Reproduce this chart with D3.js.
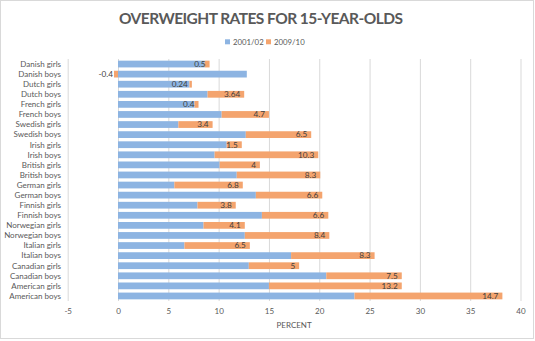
<!DOCTYPE html>
<html>
<head>
<meta charset="utf-8">
<script src="https://cdn.jsdelivr.net/npm/d3@7"></script>
<style>
  body { margin: 0; background: #fff; }
  text { font-family: Lato, "Open Sans", sans-serif; }
</style>
</head>
<body>
<div id="chart"></div>
<script>
const categories = ['Danish girls', 'Danish boys', 'Dutch girls', 'Dutch boys', 'French girls', 'French boys',
  'Swedish girls', 'Swedish boys', 'Irish girls', 'Irish boys', 'British girls', 'British boys',
  'German girls', 'German boys', 'Finnish girls', 'Finnish boys', 'Norwegian girls', 'Norwegian boys',
  'Italian girls', 'Italian boys', 'Canadian girls', 'Canadian boys', 'American girls', 'American boys'];
// 2001/02 rate
const rate2001 = [8.6, 12.8, 7.1, 8.9, 7.6, 10.3, 6.0, 12.7, 10.8, 9.6, 10.1, 11.8,
  5.6, 13.7, 7.9, 14.3, 8.5, 12.6, 6.6, 17.2, 13.0, 20.7, 15.0, 23.5];
// change up to 2009/10 (these are the labels on the orange bars)
const change2009 = [0.5, -0.4, 0.24, 3.64, 0.4, 4.7, 3.4, 6.5, 1.5, 10.3, 4, 8.3,
  6.8, 6.6, 3.8, 6.6, 4.1, 8.4, 6.5, 8.3, 5, 7.5, 13.2, 14.7];
const seriesNames = ['2001/02', '2009/10'];
const xTicks = [-5, 0, 5, 10, 15, 20, 25, 30, 35, 40];

const W = 535, H = 341;
const colors = ['#8db4e2', '#f4a46e'];

const svg = d3.select('#chart').append('svg')
  .attr('width', W).attr('height', H);

// chart border
svg.append('rect')
  .attr('x', 0.5).attr('y', 0.5).attr('width', W - 2).attr('height', H - 3)
  .attr('fill', '#fff').attr('stroke', '#d9d9d9');

const rows = categories.map((c, i) => ({ cat: c, a: rate2001[i], b: change2009[i] }));
const stacked = d3.stack().keys(['a', 'b']).offset(d3.stackOffsetDiverging)(rows);

const x = d3.scaleLinear().domain([-5, 40]).range([67.7, 520.5]);
const y = d3.scaleBand().domain(categories).range([59, 301]).paddingInner(0.33).paddingOuter(0.165);

// gridlines
svg.append('g')
  .attr('transform', `translate(0, 301)`)
  .call(d3.axisBottom(x).tickValues(xTicks).tickSize(-242).tickFormat(''))
  .call(g => g.select('.domain').remove())
  .call(g => g.selectAll('line').attr('stroke', '#d9d9d9').attr('stroke-width', 1));

// bars
svg.append('g').selectAll('g')
  .data(stacked)
  .join('g')
  .attr('fill', (d, i) => colors[i])
  .selectAll('rect')
  .data(d => d)
  .join('rect')
  .attr('x', d => x(Math.min(d[0], d[1])))
  .attr('y', d => y(d.data.cat))
  .attr('width', d => Math.abs(x(d[1]) - x(d[0])))
  .attr('height', y.bandwidth());

// labels on the orange series
svg.append('g').selectAll('text')
  .data(stacked[1])
  .join('text')
  .attr('x', d => d.data.b < 0 ? x(d[0]) - 1 : x(d[1]) - 4)
  .attr('y', d => y(d.data.cat) + y.bandwidth() / 2)
  .attr('dy', '0.35em')
  .attr('text-anchor', 'end')
  .attr('font-size', 8.2)
  .attr('fill', '#404040')
  .text(d => d.data.b);

// category labels
svg.append('g').selectAll('text')
  .data(categories)
  .join('text')
  .attr('x', 61)
  .attr('y', d => y(d) + y.bandwidth() / 2)
  .attr('dy', '0.35em')
  .attr('text-anchor', 'end')
  .attr('font-size', 8)
  .attr('fill', '#595959')
  .text(d => d);

// x axis labels
svg.append('g')
  .attr('transform', `translate(0, 301)`)
  .call(d3.axisBottom(x).tickValues(xTicks).tickSize(0).tickPadding(7).tickFormat(d => String(d)))
  .call(g => g.select('.domain').remove())
  .call(g => g.selectAll('text').attr('font-size', 8).attr('fill', '#595959')
    .attr('font-family', 'Lato, "Open Sans", sans-serif'));

svg.append('text')
  .attr('x', x(17.5)).attr('y', 328)
  .attr('text-anchor', 'middle')
  .attr('font-size', 8)
  .attr('fill', '#595959')
  .text('PERCENT');

// title
svg.append('text')
  .attr('x', 261).attr('y', 23.5)
  .attr('text-anchor', 'middle')
  .attr('font-size', 15.5)
  .attr('font-weight', 'bold')
  .attr('fill', '#595959')
  .attr('textLength', 284)
  .attr('lengthAdjust', 'spacing')
  .text('OVERWEIGHT RATES FOR 15-YEAR-OLDS');

// legend
const legend = svg.append('g');
const legendX = [225, 266];
seriesNames.forEach((s, i) => {
  legend.append('rect')
    .attr('x', legendX[i]).attr('y', 39.3)
    .attr('width', 5).attr('height', 5)
    .attr('fill', colors[i]);
  legend.append('text')
    .attr('x', legendX[i] + 8).attr('y', 42)
    .attr('dy', '0.35em')
    .attr('font-size', 7.8)
    .attr('fill', '#595959')
    .text(s);
});
</script>
</body>
</html>
